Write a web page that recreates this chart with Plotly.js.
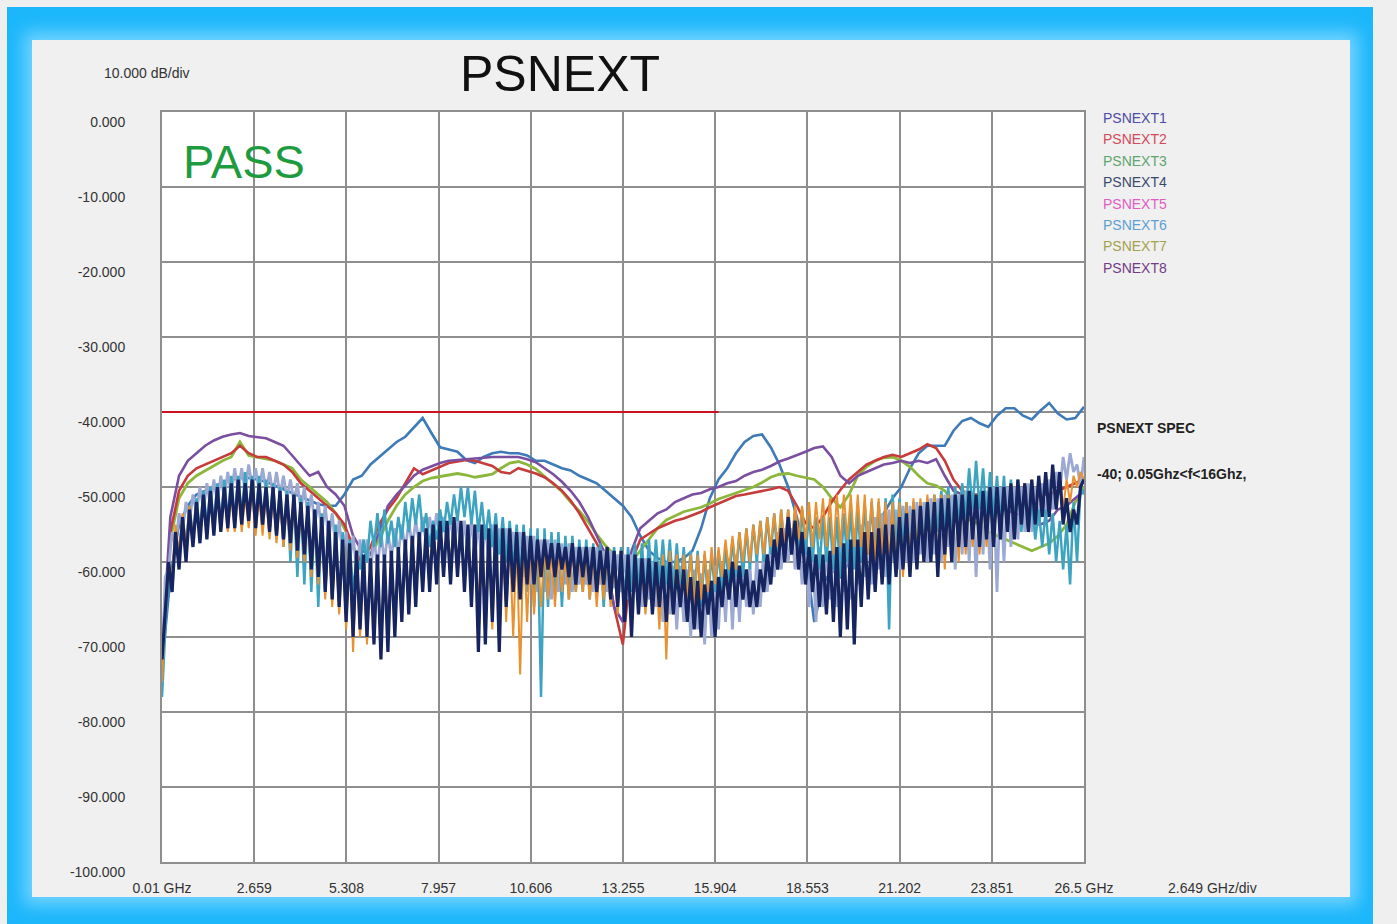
<!DOCTYPE html>
<html><head><meta charset="utf-8">
<script src="https://cdn.plot.ly/plotly-3.0.1.min.js"></script>
<style>
html,body{margin:0;padding:0;background:#efefef;width:1397px;height:924px;overflow:hidden;}
#frame{position:absolute;left:7px;top:7px;width:1366px;height:917px;background:#1cb7fb;}
#chart{position:absolute;left:32px;top:40px;width:1318px;height:857px;box-shadow:0 0 16px 8px rgba(125,215,255,0.9);}
</style></head>
<body><div id="frame"></div><div id="chart"></div>
<script>
// ---------------- frequency grids (GHz) ----------------
const fineGHz = [0.01,
0.1,0.2,0.3,0.4,0.5,0.6,0.7,0.8,0.9,1.0,
1.1,1.2,1.3,1.4,1.5,1.6,1.7,1.8,1.9,2.0,
2.1,2.2,2.3,2.4,2.5,2.6,2.7,2.8,2.9,3.0,
3.1,3.2,3.3,3.4,3.5,3.6,3.7,3.8,3.9,4.0,
4.1,4.2,4.3,4.4,4.5,4.6,4.7,4.8,4.9,5.0,
5.1,5.2,5.3,5.4,5.5,5.6,5.7,5.8,5.9,6.0,
6.1,6.2,6.3,6.4,6.5,6.6,6.7,6.8,6.9,7.0,
7.1,7.2,7.3,7.4,7.5,7.6,7.7,7.8,7.9,8.0,
8.1,8.2,8.3,8.4,8.5,8.6,8.7,8.8,8.9,9.0,
9.1,9.2,9.3,9.4,9.5,9.6,9.7,9.8,9.9,10.0,
10.1,10.2,10.3,10.4,10.5,10.6,10.7,10.8,10.9,11.0,
11.1,11.2,11.3,11.4,11.5,11.6,11.7,11.8,11.9,12.0,
12.1,12.2,12.3,12.4,12.5,12.6,12.7,12.8,12.9,13.0,
13.1,13.2,13.3,13.4,13.5,13.6,13.7,13.8,13.9,14.0,
14.1,14.2,14.3,14.4,14.5,14.6,14.7,14.8,14.9,15.0,
15.1,15.2,15.3,15.4,15.5,15.6,15.7,15.8,15.9,16.0,
16.1,16.2,16.3,16.4,16.5,16.6,16.7,16.8,16.9,17.0,
17.1,17.2,17.3,17.4,17.5,17.6,17.7,17.8,17.9,18.0,
18.1,18.2,18.3,18.4,18.5,18.6,18.7,18.8,18.9,19.0,
19.1,19.2,19.3,19.4,19.5,19.6,19.7,19.8,19.9,20.0,
20.1,20.2,20.3,20.4,20.5,20.6,20.7,20.8,20.9,21.0,
21.1,21.2,21.3,21.4,21.5,21.6,21.7,21.8,21.9,22.0,
22.1,22.2,22.3,22.4,22.5,22.6,22.7,22.8,22.9,23.0,
23.1,23.2,23.3,23.4,23.5,23.6,23.7,23.8,23.9,24.0,
24.1,24.2,24.3,24.4,24.5,24.6,24.7,24.8,24.9,25.0,
25.1,25.2,25.3,25.4,25.5,25.6,25.7,25.8,25.9,26.0,
26.1,26.2,26.3,26.4,26.5];

const coarseGHz = [0.01,
0.25,0.5,0.75,1,1.25,1.5,1.75,2,2.25,2.5,2.75,3,3.25,3.5,3.75,4,4.25,4.5,4.75,5,
5.25,5.5,5.75,6,6.25,6.5,6.75,7,7.25,7.5,7.75,8,8.25,8.5,8.75,9,9.25,9.5,9.75,10,
10.25,10.5,10.75,11,11.25,11.5,11.75,12,12.25,12.5,12.75,13,13.25,13.5,13.75,14,
14.25,14.5,14.75,15,15.25,15.5,15.75,16,16.25,16.5,16.75,17,17.25,17.5,17.75,18,
18.25,18.5,18.75,19,19.25,19.5,19.75,20,20.25,20.5,20.75,21,21.25,21.5,21.75,22,
22.25,22.5,22.75,23,23.25,23.5,23.75,24,24.25,24.5,24.75,25,25.25,25.5,25.75,26,
26.25,26.5];

// ---------------- series (dB) ----------------
// PSNEXT1 (blue) on coarse grid
const psnext1 = [-74,
-62,-55,-52.5,-51, -50.5,-50,-49.5,-49, -48.8,-48.8,-49,-49.3, -49.8,-50.3,-50.8,-51.3, -51.8,-52.3,-52.5,-52.5,
-51,-49,-48.5,-47, -46,-45,-44,-43.3, -42,-40.8,-42.8,-44.7, -45,-45.3,-46.4,-46.8, -46,-45.5,-45.3,-45.5,
-45.5,-45.8,-46.5,-46.5, -47,-47.5,-47.8,-48.5, -49,-49.5,-50.5,-51.5, -52.5,-54,-56.5,-58.5,
-59.5,-60,-60,-59.5, -58.5,-55.5,-51.5,-49, -47.5,-45.5,-44,-43.2, -43,-44.7,-47,-50,
-54,-59,-68,-63, -61,-62,-60,-59, -58,-56,-53.5,-51.5, -50,-47.5,-45.5,-44.5,
-44.5,-44.5,-42.5,-41.2, -40.8,-41.5,-42,-40.5, -39.5,-39.5,-40.5,-41, -39.8,-38.8,-40.2,-41,
-40.8,-39.3];

// PSNEXT2 (red) on coarse grid
const psnext2 = [-73,
-56,-50.5,-48.5,-47.5, -47,-46.5,-46,-45.5, -44.5,-45.5,-46,-46, -46.5,-47,-48,-49.5, -50.5,-51.5,-52.5,-53.5,
-55,-58,-60,-58, -55,-53,-51.5,-49.5, -47.5,-48.3,-47.8,-47.2, -46.8,-46.6,-46.4,-46.5, -46.8,-47.2,-48,-48.2,
-47.5,-47.8,-48.2,-48.7, -49.5,-50.5,-51.8,-53.5, -55.5,-57.5,-60,-66, -71,-60,-57,-56.3,
-55.5,-55,-54.5,-54.2, -53.8,-53.3,-52.7,-52.2, -51.6,-51.2,-51,-50.8, -50.5,-50.3,-50,-50.5,
-52.5,-54.8,-55.5,-54, -52,-50.4,-49,-48, -47,-46.5,-46,-45.7, -46,-45.5,-45,-44.3,
-44.8,-46.5,-49,-50.5, -51,-51,-51.5,-52, -52,-52,-51.5,-51.5, -51,-51,-50.5,-50,
-49.5,-49];

// PSNEXT3 (green) on coarse grid
const psnext3 = [-74,
-57,-51.5,-49.5,-48.5, -47.8,-47.2,-46.5,-46, -44,-45.8,-46,-46.2, -46.5,-47,-47.5,-49, -50,-51,-52,-53.5,
-55.5,-58,-60,-59, -57,-54.5,-52.5,-51, -50,-49.2,-48.8,-48.6, -48.4,-48.2,-48.4,-48.7, -48.5,-48.3,-47.5,-46.8,
-46.6,-47,-47.6,-48.6, -49.6,-50.6,-52,-53.2, -54.6,-56.3,-57.8,-59, -60.5,-60,-58.5,-57,
-55.5,-54.4,-53.8,-53.3, -53,-52.7,-52.2,-51.6, -51.2,-50.8,-50.4,-50, -49.4,-48.7,-48.3,-48.2,
-48.5,-48.8,-49,-50, -51.5,-52.7,-51,-48.5, -47.3,-46.5,-46.1,-46, -46.5,-47.3,-48.5,-49.5,
-49.8,-50.5,-52,-53.5, -54.5,-55,-56,-56.5, -57,-57.5,-58,-58.5, -58,-57.5,-56.5,-55,
-52,-50];

// PSNEXT8 (purple) on coarse grid
const psnext8 = [-72,
-54,-48.5,-46.5,-45.5, -44.5,-43.8,-43.3,-43, -42.8,-43.2,-43.3,-43.5, -44,-44.5,-45.8,-47.2, -48.5,-48,-50,-51,
-52.5,-56.5,-58.5,-59, -56,-52.5,-51,-49.8, -48.5,-47.7,-47.2,-46.8, -46.5,-46.4,-46.2,-46.1, -46.1,-46,-46,-46,
-46,-46.3,-46.7,-47.5, -48.3,-49.3,-50.5,-52, -54,-56.5,-59,-66, -68,-58.5,-55.5,-54.5,
-53.5,-53,-52,-51.5, -51,-50.8,-50.3,-50, -49.5,-49.2,-48.5,-48, -47.7,-47.2,-46.6,-46.2,
-45.8,-45.3,-44.8,-44.6, -46,-48.5,-49.5,-48.5, -48,-47.5,-47,-46.8, -46.5,-46.8,-46.5,-46.8,
-46.3,-48.5,-50.5,-51, -51.5,-51.5,-52,-52.5, -53,-53.5,-54,-55, -55,-54.5,-53,-52.5,
-51.5,-50.5];

// PSNEXT4 (navy) on fine grid
const psnext4 = [-73,
-66,-60,-64,-56,-61,-54,-60,-53,-58,-52,
-57.5,-51,-57,-50.5,-56.5,-50,-56,-50,-55.5,-49.5,
-55.5,-49,-55,-49.5,-54.5,-49,-55.5,-49.5,-55,-50,
-56,-50,-56.5,-50.5,-57,-51,-57.5,-51,-58.5,-52,
-59,-52.5,-61,-53,-62,-54,-64,-54.5,-65,-56,
-66,-57,-68,-57.5,-70,-58.5,-69,-59,-70,-59.5,
-71,-59,-73,-59,-72,-58.5,-70,-58,-68,-57,
-67,-56.5,-66,-56,-64,-55.5,-64,-55,-63,-54.5,
-62,-54.5,-63,-54,-62,-54.5,-64,-55,-66,-55,
-72,-55,-71,-55.5,-68,-55,-72,-55.5,-66,-55.5,
-64,-56,-65,-56,-63,-56.5,-63,-57,-62,-57,
-61,-57.5,-62,-57.5,-61,-58,-62,-57.5,-63,-58,
-62,-58,-63,-58,-64,-58.5,-63,-58,-65,-58.5,
-66,-58.5,-68,-59,-70,-59,-67,-59.5,-66,-59.5,
-67,-60,-66,-60.5,-68,-60,-67,-61,-66,-61,
-68,-62,-69,-62.5,-70,-63,-67,-62.5,-70,-62,
-66,-61,-65,-60,-66,-60.5,-65,-61,-66,-62.5,
-66,-61,-64,-59,-63,-57,-61,-55.5,-60,-54,
-59,-54.5,-61,-56,-63,-58,-64,-59,-66,-59,
-67,-58.5,-68,-58,-70,-57.5,-69,-57,-71,-57,
-66,-56,-65,-56,-64,-55.5,-63,-55,-63,-55,
-62,-54,-61,-53.5,-62,-53,-61,-52.5,-60,-52,
-60,-52,-62,-51.5,-59,-51.5,-60,-51,-58,-51,
-58,-50.5,-57,-51,-58,-50.5,-57,-50,-58,-50,
-57,-50,-56,-49.5,-57,-49,-55,-49.5,-56,-49,
-55,-48.5,-54,-48,-54,-47,-53,-48,-55,-51.5,
-56,-53,-55,-50,-49];

// PSNEXT7 (lavender) on fine grid
const psnext7 = [-75,
-62,-61,-56,-58,-53.5,-56,-52,-54.5,-51,-53.5,
-50,-53,-49.5,-52.5,-49,-52,-48.5,-51.5,-48,-51,
-47.5,-50.5,-47.5,-50.5,-47,-50,-47.5,-50.5,-47.5,-50.5,
-48,-51,-48,-51,-48.5,-51.5,-49,-52,-49.5,-53,
-50,-54,-51,-55,-52,-56,-52.5,-57,-53.5,-58,
-54.5,-59,-56,-60,-56.5,-61,-57,-62,-57,-61.5,
-56.5,-61,-56,-60,-56,-59.5,-55.5,-59,-55,-58.5,
-54.5,-58,-54.5,-57.5,-54,-57.5,-54,-57,-53.5,-57,
-54,-57.5,-54,-58,-54,-58.5,-54.5,-59,-54.5,-59,
-55,-60,-55,-60,-55,-61,-55.5,-61,-55.5,-60.5,
-56,-61,-56,-62,-56.5,-63,-56.5,-64,-57,-64,
-57,-65,-57,-64,-57.5,-63,-57.5,-64,-58,-63,
-58,-63,-58,-64,-58,-63,-58.5,-64,-58.5,-63.5,
-59,-64,-59,-65,-59,-64,-59.5,-66,-59.5,-65,
-60,-66,-60,-68,-60,-67,-60.5,-69,-60.5,-68,
-61,-70,-61,-69,-61.5,-71,-61,-70,-60.5,-69,
-60,-68,-59.5,-69,-59,-68,-60,-66,-60.5,-67,
-59.5,-66,-58,-64,-57,-62,-56,-61,-55.5,-60,
-55.5,-61,-56.5,-63,-57.5,-66,-58,-68,-58,-66,
-58,-65,-57.5,-66,-57,-64,-56,-65,-55.5,-63,
-55,-62,-54.5,-63,-54,-61,-53.5,-62,-53,-60,
-53,-61,-52.5,-60,-52.5,-60,-52,-59,-52,-60,
-51.5,-59,-51.5,-60,-51,-58,-51,-61,-51,-59,
-50.5,-60,-51,-62,-50.5,-59,-50.5,-61,-50,-64,
-50,-60,-50,-58,-50,-57,-50,-56,-49.5,-56,
-50,-55,-49.5,-54,-49,-53,-48,-51,-46,-49,
-45.5,-48,-47,-50,-46];

// PSNEXT6 (teal) on fine grid
const psnext6 = [-78,
-69,-60,-64,-56,-59,-54,-58,-52.5,-57,-51.5,
-56,-50.5,-55.5,-50,-55,-49.5,-55,-49,-54.5,-48.5,
-54.5,-48.5,-54,-48,-54.5,-48.5,-55,-48.5,-55.5,-49,
-56,-49.5,-57,-50,-58,-50.5,-60,-51,-62,-51.5,
-63,-52,-64,-53,-66,-53.5,-64,-54.5,-65,-55,
-66,-56,-67,-57,-64,-59.5,-61,-57,-60,-54.5,
-58,-53.5,-58,-53,-57.5,-54.5,-58,-54,-57,-52,
-56,-51.5,-55,-51,-56,-53.5,-58,-54.5,-57,-53,
-56,-52,-55,-51,-54.5,-50,-54,-50,-55,-50.5,
-56,-52,-57,-53,-58,-53.5,-59,-54,-60,-54.5,
-61,-55,-62,-55,-64,-55.5,-66,-55.5,-78,-55.5,
-66,-56,-64,-56,-66,-56.5,-65,-56.5,-64,-57,
-64,-57,-65,-57.5,-64,-57.5,-66,-58,-65,-58,
-66,-58,-65,-58,-64,-57.5,-64,-57.5,-65,-57,
-64,-57,-63,-57,-63,-57,-64,-57.5,-64,-58,
-64,-58.5,-65,-58.5,-66,-59,-65,-59,-64,-58.5,
-64,-58,-63,-57,-62,-56,-62,-55.5,-61,-55,
-60,-54.5,-60,-54,-59,-53.5,-60,-53,-59,-53,
-58,-53,-59,-53,-59,-53.5,-60,-54,-61,-54,
-60,-54,-61,-54,-62,-53.5,-60,-53,-61,-53,
-60,-52.5,-59,-52,-60,-52,-60,-51.5,-69,-51,
-59,-51.5,-58,-52,-60,-52,-59,-52,-58,-51.5,
-57,-51,-56,-50.5,-56,-50,-57,-50,-55,-49.5,
-54,-47.5,-53,-46.5,-53,-47.5,-54,-48,-54,-48.5,
-55,-48.5,-56,-49,-55,-49,-56,-50,-56,-52,
-57,-53,-58,-53,-59,-53.5,-60,-54.5,-61,-55,
-63,-52,-60,-50,-51];

// PSNEXT5 (orange) on fine grid
const psnext5 = [-76,
-67,-60,-62,-55,-59,-53.5,-58,-52.5,-57,-52,
-57,-51.5,-56.5,-51.5,-56,-51,-56,-51,-56,-51,
-56,-50.5,-56,-51,-55.5,-50.5,-56.5,-51,-56.5,-51,
-57,-51,-57.5,-51.5,-58,-52,-58.5,-52,-59.5,-53,
-60,-53.5,-62,-54,-63,-55,-65,-55.5,-66,-57,
-67,-58,-69,-58.5,-72,-59.5,-70,-60,-71,-60.5,
-70,-60,-72,-60,-69,-59.5,-67,-59,-66,-58,
-64,-57.5,-63,-57,-62,-56.5,-61,-56,-60,-55.5,
-61,-55.5,-60,-55,-62,-55.5,-63,-56,-64,-56,
-66,-56,-67,-56.5,-69,-56,-70,-56.5,-68,-56.5,
-70,-57,-75,-57,-68,-57.5,-67,-58,-66,-58,
-65,-58.5,-66,-58.5,-64,-59,-65,-58.5,-64,-59,
-64,-59,-65,-59,-66,-59.5,-65,-59,-66,-59.5,
-67,-59.5,-66,-60,-67,-60,-66,-60.5,-67,-60.5,
-66,-60,-69,-59,-73,-58.5,-67,-59,-66,-59,
-65,-59,-66,-59,-65,-58.5,-64,-58,-63,-58,
-62,-57,-61,-56.5,-61,-56,-60,-55.5,-60,-55,
-59,-54.5,-59,-54,-58,-53.5,-58,-53,-58,-53,
-58,-52.5,-57,-52.5,-57,-52,-58,-52,-57,-51.5,
-58,-51.5,-59,-51,-58,-51,-57,-51,-58,-51,
-58,-51,-59,-51.5,-60,-51.5,-59,-52,-60,-52,
-61,-52,-62,-52,-60,-51.5,-59,-51.5,-60,-51,
-59,-51,-60,-51,-61,-51,-59,-51,-60,-51,
-59,-51,-58,-51,-59,-51,-58,-50.5,-58,-50.5,
-57,-50,-56,-50,-56,-50,-55,-49.5,-55,-49,
-55,-49,-54,-48.5,-54,-48,-53,-48.5,-53,-49,
-52,-48.5,-50,-48,-49];

// spec limit
const specGHz = [0.01, 16];
const specDb = [-40, -40];

// names / colours / ticks
const seriesNames = ['PSNEXT1','PSNEXT2','PSNEXT3','PSNEXT4','PSNEXT5','PSNEXT6','PSNEXT7','PSNEXT8'];
const legendColors = ['#4c4ca6','#d24a58','#5fa56c','#394a6c','#e05cc4','#5d9fd2','#a3a24e','#733c86'];
const lineColors = ['#3f7ab8','#c73b3b','#8cb63c','#16245f','#e8912e','#3ca4c1','#9ca9d2','#7a4fa0'];
const xTickVals = [0.01,2.659,5.308,7.957,10.606,13.255,15.904,18.553,21.202,23.851,26.5];
const xTickText = ['0.01 GHz','2.659','5.308','7.957','10.606','13.255','15.904','18.553','21.202','23.851','26.5 GHz'];
const yTickVals = [0,-10,-20,-30,-40,-50,-60,-70,-80,-90,-100];
const yTickText = ['0.000','-10.000','-20.000','-30.000','-40.000','-50.000','-60.000','-70.000','-80.000','-90.000','-100.000'];

// ---------------- build ----------------
const seriesData = {
  1:{x:coarseGHz, y:psnext1, w:2.6},
  2:{x:coarseGHz, y:psnext2, w:2.6},
  3:{x:coarseGHz, y:psnext3, w:2.8},
  4:{x:fineGHz, y:psnext4, w:3.2},
  5:{x:fineGHz, y:psnext5, w:2.0},
  6:{x:fineGHz, y:psnext6, w:2.5},
  7:{x:fineGHz, y:psnext7, w:2.8},
  8:{x:coarseGHz, y:psnext8, w:2.6}
};
const drawOrder = [1,3,2,8,7,6,5,4];
const traces = drawOrder.map(k => ({
  type:'scatter', mode:'lines', name:seriesNames[k-1],
  x:seriesData[k].x, y:seriesData[k].y,
  line:{color:lineColors[k-1], width:seriesData[k].w},
  hoverinfo:'skip', showlegend:false
}));
traces.push({type:'scatter', mode:'lines', x:specGHz, y:specDb,
  line:{color:'#cc1122', width:2}, hoverinfo:'skip', showlegend:false, name:'PSNEXT SPEC'});

const F = 'Liberation Sans, Arial, sans-serif';
const ann = [];
seriesNames.forEach((n,i) => ann.push({
  xref:'paper', yref:'paper', x:1.0184, y:(862-118-21.4*i)/750 , xanchor:'left', yanchor:'middle',
  text:n, showarrow:false, font:{family:F, size:14, color:legendColors[i]}
}));
ann.push({xref:'paper', yref:'paper', x:1.0119, y:(862-428)/750, xanchor:'left', yanchor:'middle',
  text:'<b>PSNEXT SPEC</b>', showarrow:false, font:{family:F, size:14, color:'#222'}});
ann.push({xref:'paper', yref:'paper', x:1.0119, y:(862-474)/750, xanchor:'left', yanchor:'middle',
  text:'<b>-40; 0.05Ghz&lt;f&lt;16Ghz,</b>', showarrow:false, font:{family:F, size:14, color:'#222'}});
ann.push({xref:'paper', yref:'paper', x:(147-162)/922, y:(862-73)/750, xanchor:'center', yanchor:'middle',
  text:'10.000 dB/div', showarrow:false, font:{family:F, size:14, color:'#333'}});
ann.push({xref:'paper', yref:'paper', x:(1212-162)/922, y:(862-888)/750, xanchor:'center', yanchor:'middle',
  text:'2.649 GHz/div', showarrow:false, font:{family:F, size:14, color:'#333'}});
ann.push({xref:'paper', yref:'paper', x:(181-162)/922, y:(862-161)/750, xanchor:'left', yanchor:'middle',
  text:'PASS', showarrow:false, font:{family:F, size:47, color:'#1f9b3f'}});

const axisCommon = {showgrid:true, gridcolor:'#8e8e8e', gridwidth:2, showline:true, mirror:true,
  linecolor:'#8e8e8e', linewidth:2, zeroline:false, ticks:'', fixedrange:true,
  tickfont:{family:F, size:14, color:'#333'}};

const layout = {
  width:1318, height:857,
  margin:{l:130, r:266, t:72, b:35},
  paper_bgcolor:'#f0f0f0', plot_bgcolor:'#ffffff',
  title:{text:'PSNEXT', font:{family:F, size:50, color:'#111'}, xref:'container', yref:'container',
    x:(560-32)/1318, y:1-(73-40)/857, xanchor:'center', yanchor:'middle'},
  xaxis:Object.assign({}, axisCommon, {range:[0.01,26.5], tickmode:'array', tickvals:xTickVals, ticktext:xTickText,
    ticklabelstandoff:12}),
  yaxis:Object.assign({}, axisCommon, {range:[-100,0], tickmode:'array', tickvals:yTickVals, ticktext:yTickText,
    ticklabelshift:10, ticklabelstandoff:32}),
  annotations:ann, showlegend:false, hovermode:false
};
Plotly.newPlot('chart', traces, layout, {displayModeBar:false, staticPlot:true});
</script></body></html>
